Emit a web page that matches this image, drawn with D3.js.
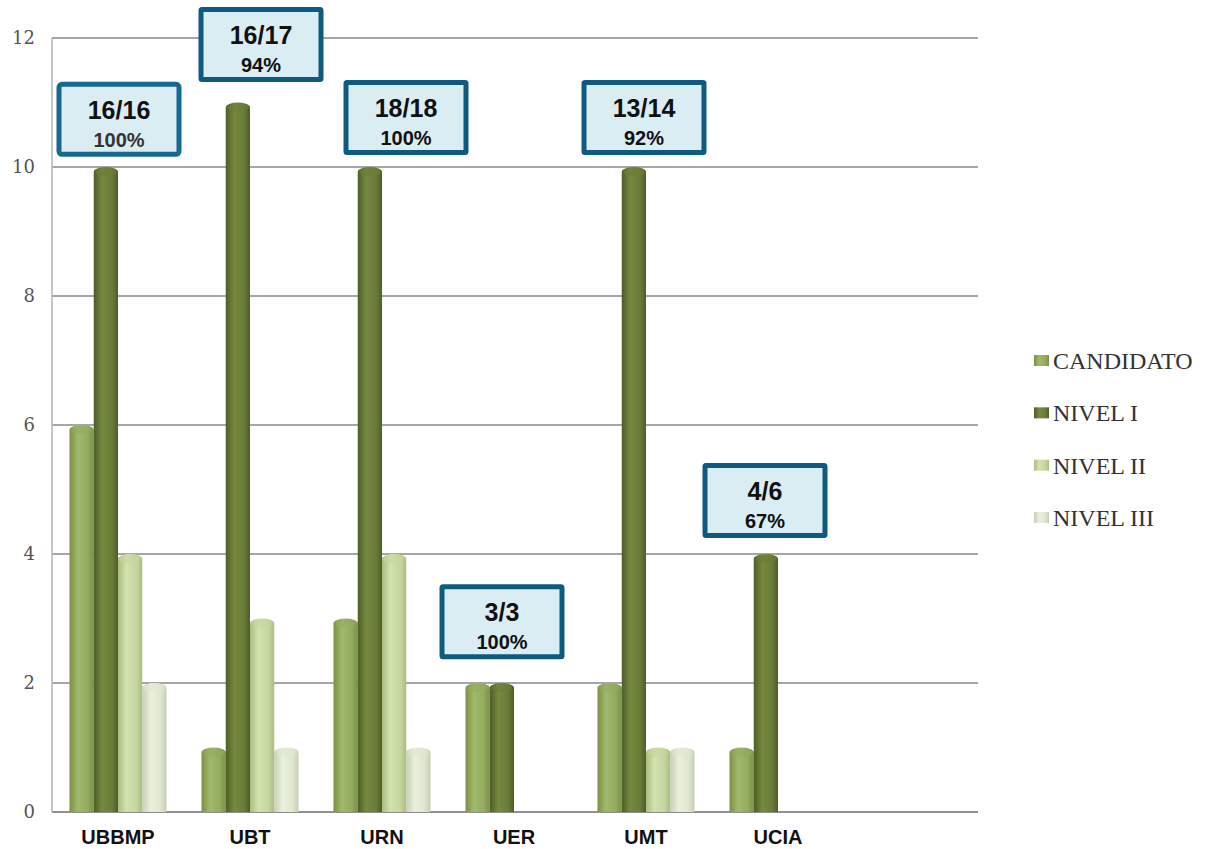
<!DOCTYPE html>
<html>
<head>
<meta charset="utf-8">
<script src="https://cdn.jsdelivr.net/npm/d3@7"></script>
<style>
  html, body { margin: 0; padding: 0; background: #ffffff; }
  svg { display: block; }
</style>
</head>
<body>
<svg id="chart" width="1206" height="849"></svg>
<script>
// ---------- data ----------
const categories = ["UBBMP", "UBT", "URN", "UER", "UMT", "UCIA"];
const seriesNames = ["CANDIDATO", "NIVEL I", "NIVEL II", "NIVEL III"];
const candidato = [6, 1, 3, 2, 2, 1];
const nivelI    = [10, 11, 10, 2, 10, 4];
const nivelII   = [4, 3, 4, 0, 1, 0];
const nivelIII  = [2, 1, 1, 0, 1, 0];
const yTicks = [0, 2, 4, 6, 8, 10, 12];

// callout annotations
const noteCategory = ["UBBMP", "UBT", "URN", "UER", "UMT", "UCIA"];
const noteRatio    = ["16/16", "16/17", "18/18", "3/3", "13/14", "4/6"];
const notePct      = ["100%", "94%", "100%", "100%", "92%", "67%"];
const noteTopValue = [11.32, 12.48, 11.35, 3.53, 11.35, 5.41];
const noteShift    = [1, 11, 24, -12, -2, -13];

(function () {
// ---------- layout ----------
const seriesValues = [candidato, nivelI, nivelII, nivelIII];
const colors = [
  { edge: "#7a9145", mid: "#a1b96b", cap: "#93ab5e" },
  { edge: "#4d5d27", mid: "#76893f", cap: "#6a7d38" },
  { edge: "#aabd80", mid: "#d3e2ae", cap: "#c5d69f" },
  { edge: "#c6d0b2", mid: "#e9f0dd", cap: "#dfe7d0" }
];

const svg = d3.select("#chart");
const plotLeft = 52, plotTop = 38, plotBottom = 812, plotRight = 978;
const step = 132;

const y = d3.scaleLinear().domain([0, 12]).range([plotBottom, plotTop]);
const x = d3.scaleBand()
  .domain(categories)
  .range([plotLeft, plotLeft + step * categories.length])
  .paddingInner(0.265)
  .paddingOuter(0.1325);
const xs = d3.scaleBand().domain(seriesNames).range([0, x.bandwidth()]);

// gradients
const defs = svg.append("defs");
colors.forEach((c, i) => {
  const g = defs.append("linearGradient").attr("id", "grad" + i)
    .attr("x1", "0%").attr("x2", "100%").attr("y1", "0%").attr("y2", "0%");
  g.append("stop").attr("offset", "0%").attr("stop-color", c.edge);
  g.append("stop").attr("offset", "35%").attr("stop-color", c.mid);
  g.append("stop").attr("offset", "75%").attr("stop-color", c.cap);
  g.append("stop").attr("offset", "100%").attr("stop-color", c.edge);
});

// gridlines
svg.append("g").selectAll("line").data(yTicks).join("line")
  .attr("x1", plotLeft).attr("x2", plotRight)
  .attr("y1", d => y(d)).attr("y2", d => y(d))
  .attr("stroke", d => d === 0 ? "#909090" : "#a6a6a6").attr("stroke-width", 2);

// y axis line
svg.append("line").attr("x1", plotLeft).attr("x2", plotLeft)
  .attr("y1", y(12)).attr("y2", y(0))
  .attr("stroke", "#b5b5b5").attr("stroke-width", 1.5);

// y axis labels
const yAxis = d3.axisLeft(y).tickValues(yTicks).tickSize(0).tickPadding(17);
const yg = svg.append("g").attr("transform", `translate(${plotLeft},0)`).call(yAxis);
yg.select(".domain").remove();
yg.selectAll("text")
  .attr("font-family", "'DejaVu Serif', 'Liberation Serif', serif")
  .attr("font-size", 18).attr("fill", "#555");

// bars
const capH = 5;
function barPath(x0, w, v) {
  const yt = y(v), yb = y(0);
  return `M${x0},${yb} L${x0},${yt + capH} A${w / 2},${capH} 0 0 1 ${x0 + w},${yt + capH} L${x0 + w},${yb} Z`;
}
const groups = svg.append("g").selectAll("g").data(categories).join("g")
  .attr("transform", d => `translate(${x(d)},0)`);
groups.each(function (cat, ci) {
  const g = d3.select(this);
  seriesNames.forEach((s, si) => {
    const v = seriesValues[si][ci];
    if (!v) return;
    const x0 = xs(s), w = xs.bandwidth();
    g.append("path").attr("d", barPath(x0, w, v)).attr("fill", `url(#grad${si})`);
    g.append("ellipse")
      .attr("cx", x0 + w / 2).attr("cy", y(v) + capH)
      .attr("rx", w / 2 - 1).attr("ry", capH - 1)
      .attr("fill", colors[si].cap).attr("opacity", 0.55);
  });
});

// x axis labels
const xAxis = d3.axisBottom(x).tickSize(0).tickPadding(18);
const xg = svg.append("g").attr("transform", `translate(0,${plotBottom})`).call(xAxis);
xg.select(".domain").remove();
xg.selectAll("text")
  .attr("font-family", "'Liberation Sans', Arial, sans-serif")
  .attr("font-weight", "bold").attr("font-size", 20).attr("fill", "#111");

// callouts
const boxW = 120, boxH = 70;
noteCategory.forEach((cat, i) => {
  const cx = x(cat) + x.bandwidth() / 2 + noteShift[i];
  const ty = y(noteTopValue[i]);
  const g = svg.append("g");
  g.append("rect")
    .attr("x", cx - boxW / 2).attr("y", ty + 2.5)
    .attr("width", boxW).attr("height", boxH)
    .attr("rx", i === 0 ? 3 : 1)
    .attr("fill", "#daedf3").attr("stroke", i === 0 ? "#17698f" : "#0e5b82").attr("stroke-width", 5);
  g.append("text").attr("x", cx).attr("y", ty + 37)
    .attr("text-anchor", "middle")
    .attr("font-family", "'Liberation Sans', Arial, sans-serif")
    .attr("font-weight", "bold").attr("font-size", 25).attr("fill", "#111")
    .text(noteRatio[i]);
  g.append("text").attr("x", cx).attr("y", ty + 65)
    .attr("text-anchor", "middle")
    .attr("font-family", "'Liberation Sans', Arial, sans-serif")
    .attr("font-weight", "bold").attr("font-size", 20).attr("fill", i === 0 ? "#333" : "#111")
    .text(notePct[i]);
});

// legend
const legend = svg.append("g").attr("transform", "translate(1034,0)");
const legendY = d3.scalePoint().domain(seriesNames).range([361, 518]);
seriesNames.forEach((s, i) => {
  const ly = legendY(s);
  legend.append("rect").attr("x", 0).attr("y", ly - 6).attr("width", 15).attr("height", 11)
    .attr("fill", `url(#grad${i})`);
  legend.append("text").attr("x", 19).attr("y", ly + 8)
    .attr("font-family", "'Liberation Serif', 'DejaVu Serif', serif")
    .attr("font-size", 24).attr("fill", "#333")
    .text(s);
});
})();
</script>
</body>
</html>
